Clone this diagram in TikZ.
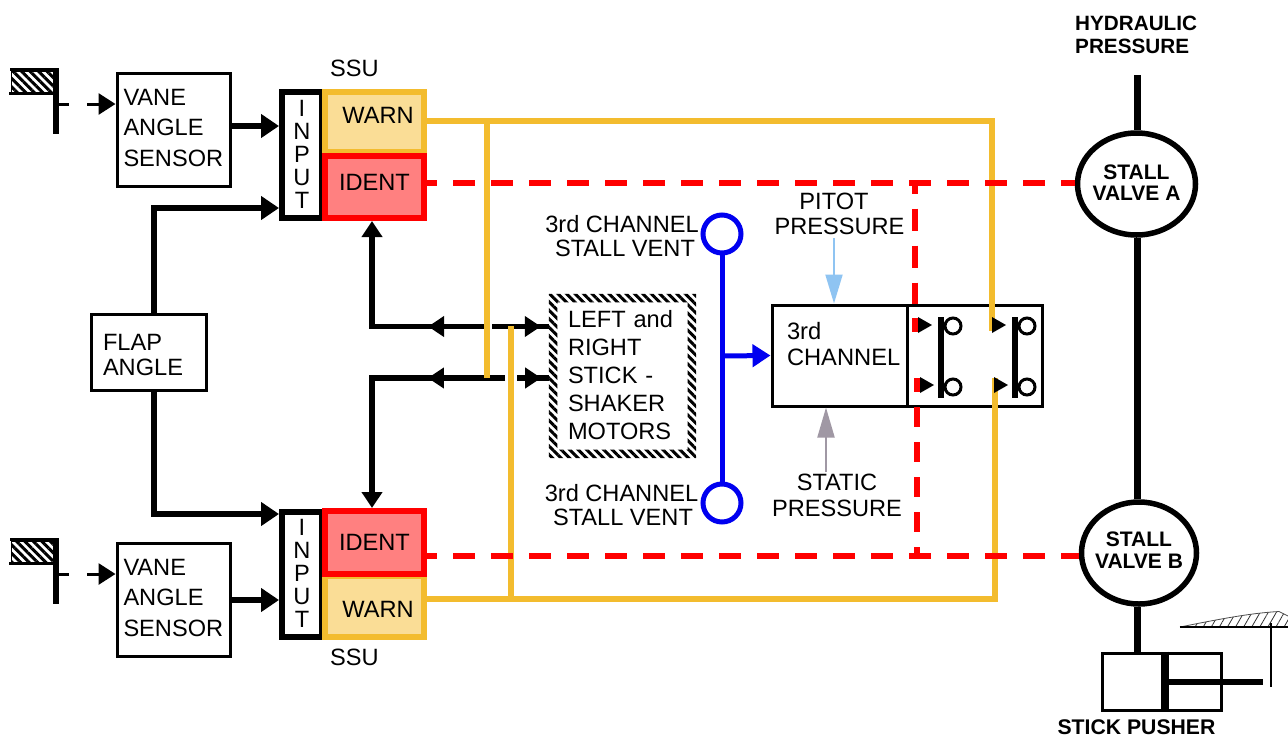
\documentclass[tikz,border=0pt]{standalone}
\usepackage{fontspec}
\setmainfont{Liberation Sans}
\usetikzlibrary{arrows.meta,patterns.meta,decorations.markings,shapes.geometric,calc}
\definecolor{gold}{HTML}{F3BC2E}
\definecolor{goldfill}{HTML}{FADD96}
\definecolor{redfill}{HTML}{FF8080}
\definecolor{pureblue}{HTML}{0000F0}
\definecolor{skyarrow}{HTML}{8FC4F2}
\definecolor{grayarrow}{HTML}{A098A4}
\tikzset{
  x=1pt,y=-1pt,
  txt/.style={font=\fontsize{23.6}{30}\selectfont},
  boldtxt/.style={font=\fontsize{20.7}{23}\selectfont\bfseries,align=center,inner sep=0pt},
  lab/.style={txt,align=left,inner sep=0pt},
  clab/.style={txt,align=center,inner sep=0pt},
  pbox/.style={draw=black,line width=3pt,fill=white,txt,inner sep=0pt,align=left},
  vanebox/.style={pbox,font=\fontsize{23.6}{30.5}\selectfont,minimum width=113pt,minimum height=113pt,text width=100pt,text depth=65pt},
  inputbox/.style={draw=black,line width=6pt,fill=white,minimum width=40pt,inner sep=0pt,align=center,font=\fontsize{23.6}{23}\selectfont},
  warnbox/.style={draw=gold,line width=6pt,fill=goldfill,minimum width=99pt,inner sep=0pt,txt},
  identbox/.style={draw=red,line width=6pt,fill=redfill,minimum width=99pt,inner sep=0pt,txt},
  valve/.style={draw=black,line width=5.5pt,fill=white,ellipse,inner ysep=0pt,inner xsep=-8pt,font=\fontsize{21}{21.5}\selectfont\bfseries,align=center},
  heavy/.style={draw=black,line width=5.5pt},
  goldline/.style={draw=gold,line width=5.7pt},
  redline/.style={draw=red,line width=5.7pt,dash pattern=on 22pt off 16pt,dash phase=12pt},
  redvert/.style={draw=red,line width=5.7pt,dash pattern=on 22pt off 15pt,dash phase=11pt},
  redvertb/.style={draw=red,line width=5.7pt,dash pattern=on 20pt off 15pt},
  redsolid/.style={draw=red,line width=5.7pt},
  Tip/.tip={Triangle[length=16pt,width=20pt]},
  Mid/.style={postaction={decorate},decoration={markings,mark=at position #1 with {\arrow{Tip}}}},
  stripes/.style={pattern={Lines[angle=-45,distance=6pt,line width=3pt]},pattern color=black},
  bigtip/.style={-{Triangle[length=18pt,width=23pt]}},
}
\begin{document}
\begin{tikzpicture}
\useasboundingbox[fill=white] (0,0) rectangle (1288,737);

% flags
\foreach \n/\d in {flagA/0,flagB/470}{
  \begin{scope}[yshift=-\d pt]
    \draw[line width=1pt,stripes,draw=black] (11,71) rectangle (53,92);
    \draw[line width=3pt] (10,69.5) -- (56,69.5);
    \draw[line width=3pt] (9,93.5) -- (55,93.5);
    \draw[line width=6pt] (56,68) -- (56,134);
    \draw[line width=3pt] (59,104) -- (69,104);
    \coordinate (\n) at (87,104);
  \end{scope}
}

% boxes
\node[vanebox] (vane1) at (173.5,129.5) {VANE\\ANGLE\\SENSOR};
\node[vanebox] (vane2) at (173.5,599.5) {VANE\\ANGLE\\SENSOR};
\node[inputbox,minimum height=126pt,text depth=2pt] (input1) at (302,155) {I\\N\\P\\U\\T};
\node[inputbox,minimum height=125pt,text depth=1pt] (input2) at (302,574) {I\\N\\P\\U\\T};
\node[pbox,font=\fontsize{23.6}{25}\selectfont,minimum width=115pt,minimum height=76pt,text width=91pt,text depth=20pt] (flap) at (148.5,352) {FLAP\\ANGLE};

\draw[line width=3pt,-{Triangle[length=17pt,width=21pt]}] (flagA) -- (vane1.west |- flagA);
\draw[line width=3pt,-{Triangle[length=17pt,width=21pt]}] (flagB) -- (vane2.west |- flagB);
\draw[line width=6pt,bigtip] ([yshift=3.5pt]vane1.east) -- ([yshift=29pt]input1.west);
\draw[line width=6pt,bigtip] ([yshift=-0.5pt]vane2.east) -- ([yshift=-26pt]input2.west);
\draw[heavy,bigtip] (flap.north -| 154,0) |- ([yshift=-53pt]input1.west);
\draw[heavy,bigtip] (flap.south -| 154,0) |- ([yshift=60pt]input2.west);

% SSU blocks
\node[warnbox,minimum height=60pt,text depth=14pt] (warn1) at (374.5,122) {\hspace*{7pt}WARN};
\node[warnbox,minimum height=61pt,text height=22pt] (warn2) at (374.5,606.5) {\hspace*{7pt}WARN};
\node[identbox,minimum height=62pt,text depth=10pt] (ident1) at (374.5,187) {IDENT};
\node[identbox,minimum height=62.5pt] (ident2) at (374.5,542.25) {IDENT};

% shaker
\node[lab,font=\fontsize{23.6}{28}\selectfont,minimum width=147pt,minimum height=164pt,text width=109pt,text depth=114pt] (shaker) at (622.5,376) {LEFT and\\RIGHT\\STICK -\\SHAKER\\MOTORS};
\fill[stripes,even odd rule] (shaker.north west) rectangle (shaker.south east)
  ([shift={(8.5pt,-8.5pt)}]shaker.north west) rectangle ([shift={(-8.5pt,8.5pt)}]shaker.south east);

% black bidirectional wiring
\coordinate (ju) at (372,326.5);
\coordinate (jl) at (372,378);
\coordinate (gu1) at (484,326.5);
\coordinate (gu2) at (492,326.5);
\coordinate (gl1) at (505,378);
\coordinate (gl2) at (517,378);
\draw[heavy,Mid=0.257,-{Tip}] (gu1) -- (ju) -- ([xshift=-2.5pt]ident1.south);
\draw[heavy,Mid=0.293,-{Tip}] (gl1) -- (jl) -- ([xshift=-2.5pt]ident2.north);
\draw[heavy,Mid=0.86] (gu2) -- (gu2 -| shaker.west);
\draw[heavy,Mid=0.76] (gl2) -- (gl2 -| shaker.west);

% 3rd channel
\node[pbox,font=\fontsize{23.7}{26}\selectfont,minimum width=135pt,minimum height=101pt,text width=124pt,text depth=49pt] (chan) at (839.5,355.5) {\hspace*{9.5pt}3rd\\\hspace*{9.5pt}CHANNEL};
\node[draw=black,line width=3pt,minimum width=135pt,minimum height=101pt,inner sep=0pt,fill=white] (sw) at (974.5,355.5) {};

% valves
\node[valve,minimum width=118pt,minimum height=102pt,text depth=3pt] (valveA) at (1136.5,184) {STALL\\VALVE A};
\node[valve,minimum width=115pt,minimum height=102pt,text depth=6pt] (valveB) at (1139,553) {STALL\\VALVE B};

% gold
\coordinate (g1) at (992,121);
\coordinate (g2) at (992,331);
\coordinate (g3) at (995,378);
\coordinate (g4) at (995,599);
\coordinate (gt) at (487,121);
\coordinate (gte) at (487,378);
\coordinate (gb) at (511,599);
\coordinate (gbe) at (511,326);
\draw[goldline] ([yshift=1pt]warn1.east) -- (g1) -- (g2);
\draw[goldline] ([yshift=7.5pt]warn2.east) -- (g4) -- (g3);
\draw[goldline] (gt) -- (gte);
\draw[goldline] (gb) -- (gbe);

% red
\coordinate (r1) at (915,182.7);
\coordinate (r2) at (917,555.7);
\coordinate (r1e) at (915,304);
\coordinate (r2s) at (917,407);
\draw[redline] ([yshift=4.3pt]ident1.east) -- (valveA.west |- r1);
\draw[redline] ([yshift=-13.45pt]ident2.east) -- (valveB.west |- r2);
\draw[redvert] (r1) -- (r1e);
\draw[redsolid] (915,318) -- (915,332);
\draw[redsolid] (917,378) -- (917,392);
\draw[redvertb] (r2s) -- (r2);

% switch contents
\foreach \xa/\xb/\xc in {925/941/953,999/1015/1027}{
  \fill (\xa-7,317) -- (\xa+7,325) -- (\xa-7,333) -- cycle;
  \fill (\xa-5,377) -- (\xa+9,385) -- (\xa-5,393) -- cycle;
  \draw[line width=3pt] (\xc,326) circle (8);
  \draw[line width=3pt] (\xc,387) circle (8);
  \draw[line width=6pt] (\xb,317) -- (\xb,398);
}

% blue
\node[draw=pureblue,line width=5pt,circle,minimum size=38pt,inner sep=0pt] (vent1) at (722,234) {};
\node[draw=pureblue,line width=5pt,circle,minimum size=38pt,inner sep=0pt] (vent2) at (722,503) {};
\draw[draw=pureblue,line width=5pt,shorten <=-2pt,shorten >=-2pt] (vent1) -- (vent2);
\coordinate (bj) at (722,356);
\draw[draw=pureblue,line width=5pt,-{Triangle[length=18pt,width=22pt]}] (bj) -- (chan.west);

% labels
\node[txt,inner sep=0pt] (ssu1) at (354.5,68) {SSU};
\node[txt,inner sep=0pt] (ssu2) at (354.5,657) {SSU};
\node[clab,font=\fontsize{23.6}{24}\selectfont] (v1t) at (622,236) {3rd CHANNEL\\\hspace*{6pt}STALL VENT};
\node[clab,font=\fontsize{23.6}{24}\selectfont] (v2t) at (621.5,505) {3rd CHANNEL\\\hspace*{3pt}STALL VENT};
\node[clab,font=\fontsize{23.6}{25.5}\selectfont] (pitot) at (839.5,214) {\hspace*{-11pt}PITOT\\PRESSURE};
\node[clab,font=\fontsize{23.6}{26}\selectfont] (static) at (837,495) {STATIC\\PRESSURE};
\draw[draw=skyarrow,line width=2pt,-{Triangle[length=29pt,width=17pt]}] (834,238) -- (chan.north -| 834,0);
\draw[draw=grayarrow,line width=2pt,-{Triangle[length=30pt,width=17pt]}] (826,472) -- (chan.south -| 826,0);

\node[boldtxt,align=left,anchor=west] (hyd) at (1075,34.5) {HYDRAULIC\\PRESSURE};
\coordinate (hp) at (1137,75);
\draw[line width=7pt] (hp) -- (valveA.north -| hp);
\draw[line width=7pt] (valveA.south -| hp) -- (valveB.north -| hp);

% stick pusher
\node[draw=black,line width=3pt,fill=white,minimum width=119pt,minimum height=57pt,inner sep=0pt] (pusher) at (1161.5,681.5) {};
\draw[line width=7pt] (valveB.south -| hp) -- (pusher.north -| hp);
\coordinate (piston) at (1165,681.5);
\draw[line width=8pt] (pusher.north -| piston) -- (pusher.south -| piston);
\coordinate (rod) at (1263,681.5);
\draw[line width=6pt] (piston) -- (rod);
\node[boldtxt,font=\fontsize{21.2}{23}\selectfont\bfseries] (sp) at (1136.5,727) {STICK PUSHER};

% wing
\fill[pattern={Lines[angle=60,distance=7pt,line width=.8pt]},pattern color=black!80] (1180,627) .. controls (1215,620) and (1250,613) .. (1279,611.5) -- (1288,616) -- (1288,627) -- cycle;
\draw[line width=.8pt,black!70] (1180,627) .. controls (1215,620) and (1250,613) .. (1279,611.5) -- (1288,616);
\draw[line width=1.4pt] (1180,627) -- (1288,627);
\draw[line width=2pt] (1271,623) -- (1271,687);
\end{tikzpicture}
\end{document}
